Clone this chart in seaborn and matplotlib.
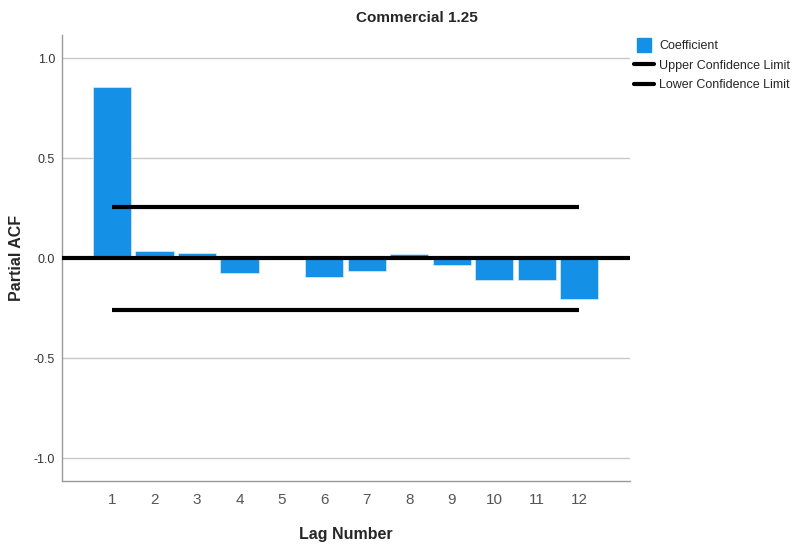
import matplotlib
matplotlib.use("Agg")
import matplotlib.pyplot as plt
from matplotlib.lines import Line2D
import seaborn as sns
import pandas as pd

# Partial autocorrelation coefficients by lag
lags = [1, 2, 3, 4, 5, 6, 7, 8, 9, 10, 11, 12]
coefficients = [0.858, 0.035, 0.028, -0.075, 0.0, -0.095, -0.062, 0.020,
                -0.034, -0.108, -0.108, -0.205]
upper_limit = 0.258
lower_limit = -0.258

sns.set_theme(style="white")
plt.rcParams["font.family"] = ["Liberation Sans", "DejaVu Sans"]

bar_color = "#1490E6"
df = pd.DataFrame({"lag": [str(l) for l in lags], "coef": coefficients})

fig = plt.figure(figsize=(7.94, 5.44), dpi=100)
ax = fig.add_axes([62 / 794, 1 - 481 / 544, (630 - 62) / 794, (481 - 35) / 544])

sns.barplot(data=df, x="lag", y="coef", color=bar_color, width=0.9,
            saturation=1, ax=ax, zorder=2)
for p in ax.patches:
    p.set_edgecolor("#cfe6fa")
    p.set_linewidth(0.6)

ax.set_ylim(-1.113, 1.117)
ax.set_xlim(-1.18, 12.2)

# horizontal reference lines
for y in [1.0, 0.5, -0.5, -1.0]:
    ax.axhline(y, color="#c8c8c8", lw=1.0, zorder=1)
ax.axhline(0.0, color="black", lw=3.0, zorder=3)
ax.hlines([upper_limit, lower_limit], 0, len(lags) - 1, colors="black",
          lw=3.0, zorder=3)

ax.set_yticks([-1.0, -0.5, 0.0, 0.5, 1.0])
ax.set_yticklabels(["-1.0", "-0.5", "0.0", "0.5", "1.0"])
ax.tick_params(axis="y", length=0, labelsize=9, colors="#333333", pad=5)
ax.tick_params(axis="x", length=0, labelsize=11, colors="#555555", pad=9)

for side in ["top", "right"]:
    ax.spines[side].set_visible(False)
for side in ["left", "bottom"]:
    ax.spines[side].set_color("#9a9a9a")
    ax.spines[side].set_linewidth(1.0)

ax.set_xlabel("Lag Number", fontsize=11.5, fontweight="bold", labelpad=14)
ax.set_ylabel("Partial ACF", fontsize=11.5, fontweight="bold")
ax.yaxis.set_label_coords((24 - 62) / (630 - 62), 0.5)
fig.text(417 / 794, 1 - 18 / 544, "Commercial 1.25", fontsize=11,
         fontweight="bold", ha="center", va="center")

handles = [
    Line2D([0], [0], marker="s", color="none", markerfacecolor=bar_color,
           markeredgecolor=bar_color, markersize=10, label="Coefficient"),
    Line2D([0], [0], color="black", lw=3, label="Upper Confidence Limit"),
    Line2D([0], [0], color="black", lw=3, label="Lower Confidence Limit"),
]
fig.legend(handles=handles, loc="upper left",
           bbox_to_anchor=(629 / 794, 1 - 35 / 544), frameon=False,
           fontsize=9, handlelength=1.6, handletextpad=0.4,
           labelspacing=0.6, borderaxespad=0)

fig.savefig("out.png", dpi=100)
